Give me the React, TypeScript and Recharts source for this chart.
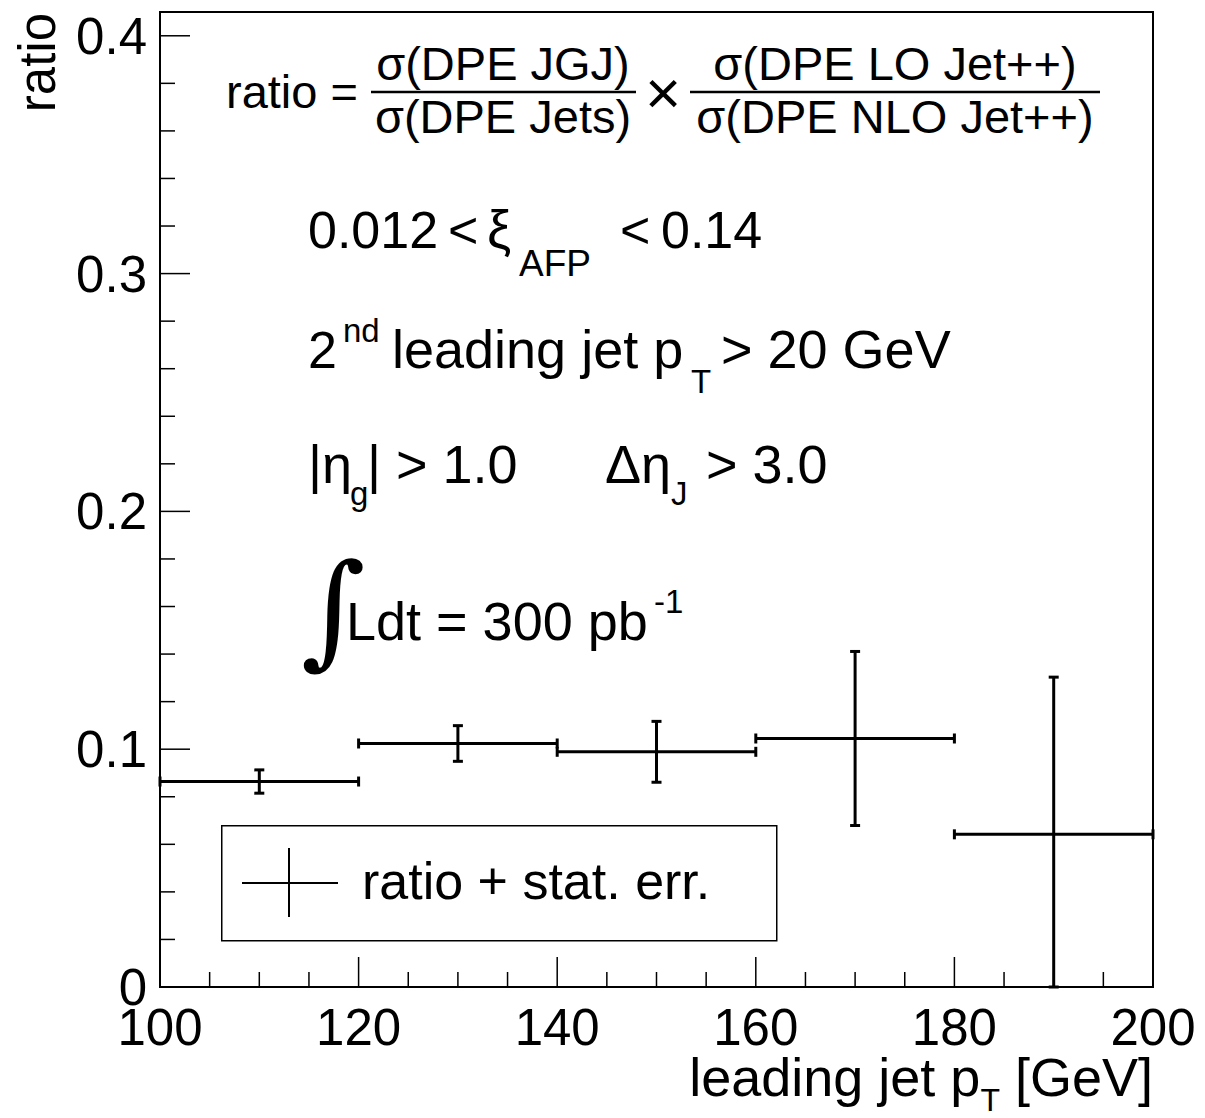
import React from "react";
import {
  ComposedChart,
  Scatter,
  ErrorBar,
  XAxis,
  YAxis,
  ReferenceArea,
  Legend,
} from "recharts";

// bin centres and half widths (leading jet pT, GeV)
const binCenters = [110, 130, 150, 170, 190];
const binHalfWidths = [10, 10, 10, 10, 10];
// ratio values and stat. errors (low, high)
const ratioValues = [0.0864, 0.1024, 0.0989, 0.1045, 0.0642];
const statErrLow = [0.0049, 0.0075, 0.0128, 0.0366, 0.0642];
const statErrHigh = [0.0049, 0.0075, 0.0128, 0.0366, 0.0661];

const xTicks = [100, 105, 110, 115, 120, 125, 130, 135, 140, 145, 150, 155, 160, 165, 170, 175, 180, 185, 190, 195, 200];
const xMajor = [100, 120, 140, 160, 180, 200];
const yTicks = [0, 0.02, 0.04, 0.06, 0.08, 0.1, 0.12, 0.14, 0.16, 0.18, 0.2, 0.22, 0.24, 0.26, 0.28, 0.3, 0.32, 0.34, 0.36, 0.38, 0.4];
const yMajor = [0, 0.1, 0.2, 0.3, 0.4];
const yMajorLabels = ["0", "0.1", "0.2", "0.3", "0.4"];

const FONT = "'Liberation Sans', Arial, Helvetica, sans-serif";

const data = binCenters.map((x, i) => ({
  x,
  y: ratioValues[i],
  xErr: binHalfWidths[i],
  yErr: [statErrLow[i], statErrHigh[i]],
}));

function XTick(props: any) {
  const { x, y, payload } = props;
  const major = xMajor.includes(payload.value);
  return (
    <g>
      <line x1={x} y1={y} x2={x} y2={y - (major ? 30 : 15)} stroke="#000" strokeWidth={1.5} />
      {major && (
        <text x={x} y={y + 58} textAnchor="middle" fontSize={51} fontFamily={FONT} fill="#000">
          {payload.value}
        </text>
      )}
    </g>
  );
}

function YTick(props: any) {
  const { x, y, payload } = props;
  const idx = yMajor.findIndex((v) => Math.abs(v - payload.value) < 1e-6);
  const major = idx >= 0;
  return (
    <g>
      <line x1={x} y1={y} x2={x + (major ? 30 : 15)} y2={y} stroke="#000" strokeWidth={1.5} />
      {major && (
        <text x={x - 13} y={y + 18} textAnchor="end" fontSize={51} fontFamily={FONT} fill="#000">
          {yMajorLabels[idx]}
        </text>
      )}
    </g>
  );
}

function LegendBox() {
  return (
    <svg width={557} height={117} style={{ display: "block" }}>
      <rect x={0.75} y={0.75} width={555} height={115} fill="#fff" stroke="#000" strokeWidth={1.5} />
      <line x1={21} y1={58} x2={117} y2={58} stroke="#000" strokeWidth={2} />
      <line x1={68} y1={23} x2={68} y2={92} stroke="#000" strokeWidth={2} />
      <text x={141} y={74} fontSize={52} fontFamily={FONT} fill="#000">
        ratio + stat. err.
      </text>
    </svg>
  );
}

function Annotations() {
  const t = { fontFamily: FONT, fill: "#000" } as const;
  return (
    <svg
      width={1205}
      height={1118}
      style={{ position: "absolute", left: 0, top: 0, pointerEvents: "none" }}
    >
      {/* y axis title */}
      <text {...t} fontSize={51} transform="translate(55,13) rotate(-90)" textAnchor="end">
        ratio
      </text>
      {/* x axis title */}
      <text {...t} fontSize={54} x={1153} y={1096} textAnchor="end">
        leading jet p<tspan fontSize={32} dy={15}>T</tspan>
        <tspan dy={-15}> [GeV]</tspan>
      </text>

      {/* ratio formula */}
      <text {...t} fontSize={47} x={226} y={108}>ratio =</text>
      <text {...t} fontSize={47} x={503} y={80} textAnchor="middle">σ(DPE JGJ)</text>
      <line x1={371} y1={92} x2={636} y2={92} stroke="#000" strokeWidth={2.5} />
      <text {...t} fontSize={47} x={503} y={133} textAnchor="middle">σ(DPE Jets)</text>
      <text {...t} fontSize={62} x={663} y={114} textAnchor="middle">×</text>
      <text {...t} fontSize={47} x={895} y={80} textAnchor="middle">σ(DPE LO Jet++)</text>
      <line x1={690} y1={92} x2={1100} y2={92} stroke="#000" strokeWidth={2.5} />
      <text {...t} fontSize={47} x={895} y={133} textAnchor="middle">σ(DPE NLO Jet++)</text>

      {/* cuts */}
      <text {...t} fontSize={52} x={308} y={248}>0.012</text>
      <text {...t} fontSize={52} x={448} y={248}>&lt;</text>
      <text {...t} fontSize={54} x={487} y={248}>ξ</text>
      <text {...t} fontSize={37} x={519} y={276}>AFP</text>
      <text {...t} fontSize={52} x={620} y={248}>&lt;</text>
      <text {...t} fontSize={52} x={661} y={248}>0.14</text>

      <text {...t} fontSize={52} x={308} y={368}>2</text>
      <text {...t} fontSize={33} x={343} y={342}>nd</text>
      <text {...t} fontSize={54} x={392} y={368}>leading jet p</text>
      <text {...t} fontSize={33} x={691} y={393}>T</text>
      <text {...t} fontSize={54} x={721} y={368}>&gt; 20 GeV</text>

      <text {...t} fontSize={54} x={308} y={483}>|η</text>
      <text {...t} fontSize={33} x={350} y={505}>g</text>
      <text {...t} fontSize={54} x={367} y={483}>| &gt; 1.0</text>
      <text {...t} fontSize={54} x={605} y={483}>Δη</text>
      <text {...t} fontSize={33} x={671} y={505}>J</text>
      <text {...t} fontSize={54} x={706} y={483}>&gt; 3.0</text>

      <text {...t} fontSize={124} x={301} y={652} fontFamily="'DejaVu Serif', serif">∫</text>
      <text {...t} fontSize={54} x={346} y={640}>Ldt = 300 pb</text>
      <text {...t} fontSize={33} x={654} y={613}>-1</text>
    </svg>
  );
}

export default function App() {
  return (
    <div
      style={{
        position: "absolute",
        left: 0,
        top: 0,
        width: 1205,
        height: 1118,
        background: "#fff",
        fontFamily: FONT,
      }}
    >
      <ComposedChart
        width={1205}
        height={1118}
        data={data}
        margin={{ top: 12, right: 52, left: 0, bottom: 0 }}
      >
        <XAxis
          dataKey="x"
          type="number"
          domain={[100, 200]}
          ticks={xTicks}
          interval={0}
          tick={<XTick />}
          tickLine={false}
          tickSize={0}
          tickMargin={0}
          height={131}
          axisLine={{ stroke: "#000", strokeWidth: 2 }}
          allowDataOverflow
        />
        <YAxis
          dataKey="y"
          type="number"
          domain={[0, 0.41]}
          ticks={yTicks}
          interval={0}
          tick={<YTick />}
          tickLine={false}
          tickSize={0}
          tickMargin={0}
          width={160}
          axisLine={{ stroke: "#000", strokeWidth: 2 }}
          allowDataOverflow
        />
        <ReferenceArea
          x1={100}
          x2={200}
          y1={0}
          y2={0.41}
          fill="none"
          fillOpacity={0}
          stroke="#000"
          strokeWidth={2}
          ifOverflow="visible"
        />
        <Legend
          layout="horizontal"
          align="center"
          verticalAlign="middle"
          content={() => <LegendBox />}
          wrapperStyle={{ position: "absolute", left: 221, top: 825, width: 557, height: 117 }}
        />
        <Scatter
          name="ratio + stat. err."
          data={data}
          dataKey="y"
          fill="#000"
          shape={() => <g />}
          isAnimationActive={false}
        >
          <ErrorBar dataKey="xErr" direction="x" width={5} stroke="#000" strokeWidth={3} />
          <ErrorBar dataKey="yErr" direction="y" width={5} stroke="#000" strokeWidth={3} />
        </Scatter>
      </ComposedChart>
      <Annotations />
    </div>
  );
}
